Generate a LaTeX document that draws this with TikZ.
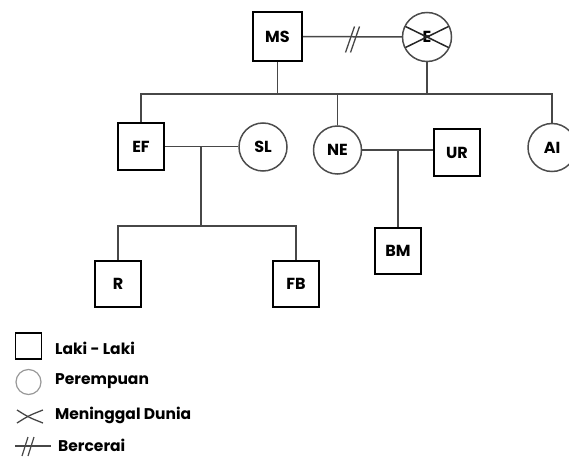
\documentclass[tikz,border=0pt]{standalone}
\usepackage{fontspec}
\setmainfont{Poppins}
\begin{document}
\begin{tikzpicture}[x=1pt,y=-1pt,
  male/.style={draw=black, line width=2pt, minimum size=46pt, inner sep=0pt, font=\bfseries\fontsize{16}{16}\selectfont},
  female/.style={circle, draw=black!70, line width=1.5pt, minimum size=48pt, inner sep=0pt, font=\bfseries\fontsize{16}{16}\selectfont},
  link/.style={draw=black!72, line width=1.5pt},
  legtext/.style={anchor=west, inner sep=0pt, font=\bfseries\fontsize{15.5}{16}\selectfont}
]
\useasboundingbox (0,0) rectangle (569,457);
% generation 1
\node[male, minimum size=49pt] (MS) at (277.5,36.5) {MS};
\node[female, minimum size=49pt] (E) at (427,37) {E};
\draw[link, draw=black!85] (E.center) ++(-21.5,-10.5) -- ++(43,21);
\draw[link, draw=black!85] (E.center) ++(-21.5,10.5) -- ++(43,-21);
\draw[link] (MS) -- (E);
\coordinate (d1) at (350,37);
\draw[link, line width=1.3pt] (d1) ++(-4.5,15.5) -- ++(9,-26);
\draw[link, line width=1.3pt] (d1) ++(0.5,15.5) -- ++(9,-26);
% generation 2
\node[male] (EF) at (141,146.5) {EF};
\node[female] (SL) at (263,147) {SL};
\node[female] (NE) at (337.5,150) {NE};
\node[male] (UR) at (457,152.5) {UR};
\node[female] (AI) at (552,147.5) {AI};
\coordinate (sib) at (336,94);
\draw[link] (MS.south) -- (MS.south |- sib);
\draw[link] (E.south) -- (E.south |- sib);
\draw[link] (EF.north) -- (EF.north |- sib) -- (AI.north |- sib) -- (AI.north);
\draw[link] (NE.north) -- (NE.north |- sib);
% couples
\draw[link] (EF.east) -- (EF.east -| SL.west);
\coordinate (c1) at (201,146.5);
\coordinate (k1) at (201,226);
\draw[link] (NE.east) -- (NE.east -| UR.west);
\coordinate (c2) at (398,150);
% generation 3
\node[male] (R) at (118,284) {R};
\node[male] (FB) at (296,284) {FB};
\node[male] (BM) at (398,250.5) {BM};
\draw[link] (c1) -- (k1);
\draw[link] (R.north) -- (R.north |- k1) -- (FB.north |- k1) -- (FB.north);
\draw[link] (c2) -- (BM.north);
% legend
\node[draw=black, line width=1.8pt, minimum size=26pt, inner sep=0pt] (lsq) at (28.5,346) {};
\node[legtext] (t1) at (55,348) {Laki - Laki};
\node[circle, draw=black!40, line width=1.2pt, minimum size=25pt, inner sep=0pt] (lci) at (28.5,382) {};
\node[legtext] (t2) at (55,381) {Perempuan};
\coordinate (lxa) at (17,410);
\coordinate (lxb) at (43,423);
\coordinate (lxc) at (17,423);
\coordinate (lxd) at (43,410);
\coordinate (lxm) at (30,416.5);
\draw[link, line width=1.3pt] (lxa) .. controls (29,417.5) .. (lxb);
\draw[link, line width=1.3pt] (lxc) .. controls (29,415.5) .. (lxd);
\node[legtext] (t3) at (55,415) {Meninggal Dunia};
\coordinate (lb) at (15,446);
\coordinate (lbe) at (51,446);
\draw[link, line width=1.3pt] (lb) -- (lbe);
\draw[link, line width=1.2pt] (lb) ++(7,10) -- ++(6,-19);
\draw[link, line width=1.2pt] (lb) ++(13,10) -- ++(6,-19);
\node[legtext] (t4) at (58,445) {Bercerai};
\end{tikzpicture}
\end{document}
